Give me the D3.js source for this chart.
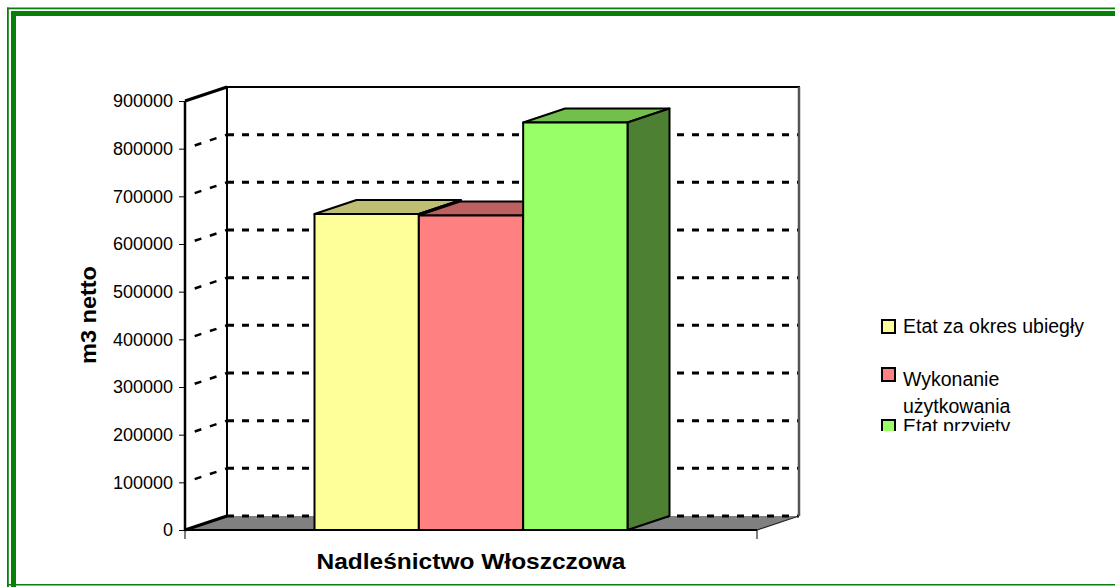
<!DOCTYPE html>
<html><head><meta charset="utf-8">
<script src="https://cdn.jsdelivr.net/npm/d3@7"></script>
<style>html,body{margin:0;padding:0;background:#fff;}svg{display:block;}</style>
</head><body>
<script>
const categories = ["Nadleśnictwo Włoszczowa"];
const seriesNames = ["Etat za okres ubiegły", "Wykonanie\nużytkowania", "Etat przyjęty"];
const seriesValues = [663000, 660000, 855000];
const yTicks = [0, 100000, 200000, 300000, 400000, 500000, 600000, 700000, 800000, 900000];
const yLabel = "m3 netto";

const W = 1115, H = 587;
const front = ["#FFFF99", "#FF8080", "#99FF66"];
const topC = ["#BFBF73", "#BF6060", "#73BF4D"];
const sideC = ["#808040", "#804040", "#4D8033"];

const svg = d3.select("body").append("svg").attr("width", W).attr("height", H);
svg.append("rect").attr("width", W).attr("height", H).attr("fill", "#fff");

// border
const g0 = "#078007";
svg.append("rect").attr("x", 7).attr("y", 7.5).attr("width", W).attr("height", 1.8).attr("fill", g0);
svg.append("rect").attr("x", 11).attr("y", 11).attr("width", W).attr("height", 5).attr("fill", g0);
svg.append("rect").attr("x", 7).attr("y", 7.5).attr("width", 1.8).attr("height", H).attr("fill", g0);
svg.append("rect").attr("x", 11).attr("y", 11).attr("width", 5).attr("height", H).attr("fill", g0);
svg.append("rect").attr("x", 7).attr("y", 584).attr("width", W).attr("height", 1.5).attr("fill", g0);

const x0 = 185, x1 = 757, dx = 42, dy = -14;
const y = d3.scaleLinear().domain([0, 900000]).range([530, 101]);
const xc = d3.scaleBand().domain(categories).range([x0, x1]).paddingInner(0).paddingOuter(0);
const xs = d3.scaleBand().domain(d3.range(seriesValues.length))
  .range([xc.bandwidth() / 2 - 156.5, xc.bandwidth() / 2 + 156.5]).paddingOuter(0).paddingInner(0);

const line = d3.line();

// floor
svg.append("path").attr("d", line([[x0, y(0)], [x1, y(0)], [x1 + dx, y(0) + dy], [x0 + dx, y(0) + dy]]) + "Z")
  .attr("fill", "#808080").attr("stroke", "none");

// back wall gridlines
yTicks.forEach(v => {
  if (v === 900000) return;
  svg.append("path").attr("d", line([[x0 + dx, y(v) + dy], [x1 + dx, y(v) + dy]]))
    .attr("stroke", "#000").attr("stroke-width", 3).attr("stroke-dasharray", "7,8").attr("fill", "none");
  if (v > 0) {
    svg.append("path").attr("d", line([[x0 + 4, y(v) - 1.3], [x0 + dx, y(v) + dy]]))
      .attr("stroke", "#000").attr("stroke-width", 2.5).attr("stroke-dasharray", "7,9").attr("stroke-dashoffset", -6).attr("fill", "none");
  }
});
// back wall frame
svg.append("path").attr("d", line([[x0 + dx, y(0) + dy], [x0 + dx, y(900000) + dy], [x1 + dx, y(900000) + dy], [x1 + dx, y(0) + dy]]))
  .attr("stroke", "#000").attr("stroke-width", 2).attr("fill", "none");
svg.append("path").attr("d", line([[x1 + dx, y(900000) + dy], [x1 + dx, y(0) + dy]]))
  .attr("stroke", "#555").attr("stroke-width", 2.5).attr("fill", "none");
// side wall top
svg.append("path").attr("d", line([[x0, y(900000)], [x0 + dx, y(900000) + dy]]))
  .attr("stroke", "#000").attr("stroke-width", 3).attr("fill", "none");
// floor edges
svg.append("path").attr("d", line([[x1, y(0)], [x1 + dx, y(0) + dy]]))
  .attr("stroke", "#222").attr("stroke-width", 1.2).attr("fill", "none");

// bars
seriesValues.forEach((v, i) => {
  const bx = xc(categories[0]) + xs(i), bw = xs.bandwidth();
  const yt = y(v), yb = y(0);
  const g = svg.append("g").attr("stroke", "#000").attr("stroke-width", 2).attr("stroke-linejoin", "round");
  g.append("path").attr("d", line([[bx, yt], [bx + dx, yt + dy], [bx + bw + dx, yt + dy], [bx + bw, yt]]) + "Z").attr("fill", topC[i]);
  g.append("path").attr("d", line([[bx + bw, yt], [bx + bw + dx, yt + dy], [bx + bw + dx, yb + dy], [bx + bw, yb]]) + "Z").attr("fill", sideC[i]);
  g.append("rect").attr("x", bx).attr("y", yt).attr("width", bw).attr("height", yb - yt).attr("fill", front[i]);
});

// front edges
svg.append("path").attr("d", line([[x0, y(0)], [x0 + dx, y(0) + dy]]))
  .attr("stroke", "#000").attr("stroke-width", 3).attr("fill", "none");
svg.append("path").attr("d", line([[x0, y(0)], [x1, y(0)]]))
  .attr("stroke", "#000").attr("stroke-width", 2).attr("fill", "none");
svg.append("path").attr("d", line([[x0, y(0)], [x0, y(900000)]]))
  .attr("stroke", "#000").attr("stroke-width", 2.5).attr("fill", "none");

// y axis ticks and labels
const ax = svg.append("g").attr("transform", `translate(${x0},0)`)
  .call(d3.axisLeft(y).tickValues(yTicks).tickSize(6).tickPadding(6).tickFormat(d3.format("d")));
ax.select(".domain").remove();
ax.selectAll("line").attr("stroke", "#000").attr("stroke-width", 1);
ax.selectAll("text").attr("font-family", "'Liberation Sans', Arial, sans-serif").attr("font-size", 18).attr("fill", "#000");

// bottom ticks
[x0, x1].forEach(xx => svg.append("line").attr("x1", xx).attr("x2", xx).attr("y1", y(0)).attr("y2", y(0) + 9)
  .attr("stroke", "#000").attr("stroke-width", 1));

// axis titles
svg.append("text").attr("x", 471).attr("y", 569).attr("text-anchor", "middle")
  .attr("font-family", "'Liberation Sans', Arial, sans-serif").attr("font-weight", "bold").attr("font-size", 22)
  .attr("textLength", 309).attr("lengthAdjust", "spacingAndGlyphs").text(categories[0]);
svg.append("text").attr("transform", "translate(96,315) rotate(-90)").attr("text-anchor", "middle")
  .attr("font-family", "'Liberation Sans', Arial, sans-serif").attr("font-weight", "bold").attr("font-size", 22)
  .attr("textLength", 98).attr("lengthAdjust", "spacingAndGlyphs")
  .text(yLabel);

// legend
const defs = svg.append("defs");
defs.append("clipPath").attr("id", "lc").append("rect").attr("x", 870).attr("y", 300).attr("width", 245).attr("height", 131);
const lg = svg.append("g").attr("clip-path", "url(#lc)");
const ly = [320, 368, 420];
const tb = [[333], [386, 413], [433]];
seriesNames.forEach((s, i) => {
  lg.append("rect").attr("x", 882).attr("y", ly[i]).attr("width", 13).attr("height", 13)
    .attr("fill", front[i]).attr("stroke", "#000").attr("stroke-width", 2);
  s.split("\n").forEach((t, j) => {
    lg.append("text").attr("x", 903).attr("y", tb[i][j])
      .attr("font-family", "'Liberation Sans', Arial, sans-serif").attr("font-size", 19.5).attr("fill", "#000").text(t);
  });
});
</script>
</body></html>
